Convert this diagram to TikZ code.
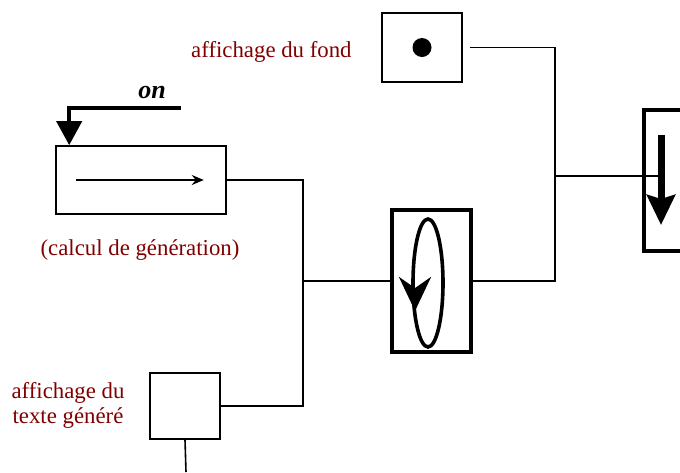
\documentclass[tikz,border=0pt]{standalone}
\usepackage{fontspec}
\setmainfont{Liberation Serif}
\usetikzlibrary{arrows.meta,positioning}
\definecolor{lblred}{RGB}{128,0,0}

\begin{document}
\begin{tikzpicture}[x=0.5pt,y=-0.5pt]
  \tikzstyle{box}=[draw,line width=0.8pt,inner sep=0pt]
  \tikzstyle{thickbox}=[draw,line width=1.8pt,inner sep=0pt]
  \tikzstyle{wire}=[line width=0.8pt]
  \tikzstyle{lbl}=[text=lblred,font=\fontsize{11.4}{12.5}\selectfont,align=center,inner sep=0pt]
  \useasboundingbox (0,0) rectangle (680,472);
  \clip (0,0) rectangle (680,472);

  \node[box,minimum width=40pt,minimum height=34.5pt] (fond) at (422,47.5) {};
  \fill (fond.center) circle (9.5);
  \node[box,minimum width=85pt,minimum height=34pt] (calc) at (141,180) {};
  \node[box,minimum width=35pt,minimum height=33pt] (texte) at (185,406) {};
  \node[thickbox,minimum width=39.5pt,minimum height=71pt] (gen) at (431.5,281) {};
  \node[thickbox,line width=2pt,minimum width=28pt,minimum height=70.5pt] (rbox) at (672,180.5) {};

  \node[lbl,anchor=east] (lfond) at (352,52) {affichage du fond};
  \node[lbl] (lcalc) at (140,250) {(calcul de génération)};
  \node[lbl] (ltexte) at (68,405) {affichage du\\texte généré};
  \node[font=\fontsize{13}{15}\selectfont\bfseries\itshape,inner sep=0pt] (on) at (152,92) {on};

  \coordinate (onstart) at (181,108);
  \coordinate (jl) at (303,281);
  \coordinate (jr) at (555,176);
  \coordinate (rtop) at (661,135);
  \coordinate (rjoin) at (661,176);
  \coordinate (rtip) at (661,225);
  \coordinate (out) at (186,472);

  % left side
  \draw[line width=2pt,-{Triangle[length=12pt,width=12.5pt]}] (onstart) -| ([xshift=7pt]calc.north west);
  \draw[wire,-{Stealth[length=6pt,width=5pt]}] ([xshift=10.5pt]calc.west) -- ([xshift=-11.5pt]calc.east);
  \draw[wire] (calc.east) -| (jl) |- (texte.east);
  \draw[wire] (jl) -- (gen.west);
  \draw[wire] (texte.south) -- (out);

  % generator
  \draw[line width=1.8pt] (428,283) ellipse [x radius=15,y radius=64];
  \draw[line width=1.8pt,-{Stealth[length=17pt,width=16pt]}] (415,288) -- (415,311);

  % right side
  \draw[wire,shorten <=3.5pt] (fond.east) -| (jr) |- (gen.east);
  \draw[wire] (jr) -- (rjoin);
  \draw[line width=3.5pt,-{Stealth[length=15pt,width=14pt,inset=2pt]}] (rtop) -- (rtip);
\end{tikzpicture}
\end{document}
